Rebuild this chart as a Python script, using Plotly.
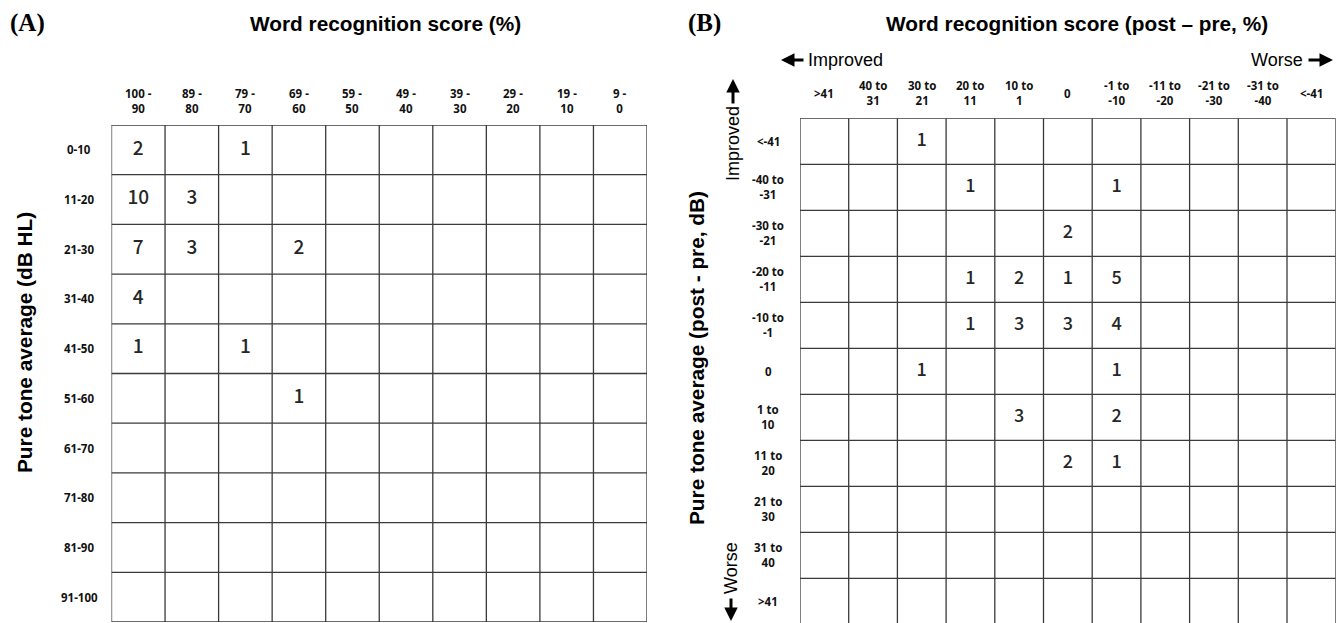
import plotly.graph_objects as go

W, H = 1338, 623

# ---- Panel A: word recognition score vs pure tone average (counts) ----
wrs_bins = ["100 -<br>90", "89 -<br>80", "79 -<br>70", "69 -<br>60", "59 -<br>50",
            "49 -<br>40", "39 -<br>30", "29 -<br>20", "19 -<br>10", "9 -<br>0"]
pta_bins = ["0-10", "11-20", "21-30", "31-40", "41-50",
            "51-60", "61-70", "71-80", "81-90", "91-100"]
counts_a = [
    [2, 0, 1, 0, 0, 0, 0, 0, 0, 0],
    [10, 3, 0, 0, 0, 0, 0, 0, 0, 0],
    [7, 3, 0, 2, 0, 0, 0, 0, 0, 0],
    [4, 0, 0, 0, 0, 0, 0, 0, 0, 0],
    [1, 0, 1, 0, 0, 0, 0, 0, 0, 0],
    [0, 0, 0, 1, 0, 0, 0, 0, 0, 0],
    [0, 0, 0, 0, 0, 0, 0, 0, 0, 0],
    [0, 0, 0, 0, 0, 0, 0, 0, 0, 0],
    [0, 0, 0, 0, 0, 0, 0, 0, 0, 0],
    [0, 0, 0, 0, 0, 0, 0, 0, 0, 0],
]

# ---- Panel B: change (post - pre) in both measures (counts) ----
wrs_change_bins = ["&gt;41", "40 to<br>31", "30 to<br>21", "20 to<br>11", "10 to<br>1", "0",
                   "-1 to<br>-10", "-11 to<br>-20", "-21 to<br>-30", "-31 to<br>-40", "&lt;-41"]
pta_change_bins = ["&lt;-41", "-40 to<br>-31", "-30 to<br>-21", "-20 to<br>-11", "-10 to<br>-1", "0",
                   "1 to<br>10", "11 to<br>20", "21 to<br>30", "31 to<br>40", "&gt;41"]
counts_b = [
    [0, 0, 1, 0, 0, 0, 0, 0, 0, 0, 0],
    [0, 0, 0, 1, 0, 0, 1, 0, 0, 0, 0],
    [0, 0, 0, 0, 0, 2, 0, 0, 0, 0, 0],
    [0, 0, 0, 1, 2, 1, 5, 0, 0, 0, 0],
    [0, 0, 0, 1, 3, 3, 4, 0, 0, 0, 0],
    [0, 0, 1, 0, 0, 0, 1, 0, 0, 0, 0],
    [0, 0, 0, 0, 3, 0, 2, 0, 0, 0, 0],
    [0, 0, 0, 0, 0, 2, 1, 0, 0, 0, 0],
    [0, 0, 0, 0, 0, 0, 0, 0, 0, 0, 0],
    [0, 0, 0, 0, 0, 0, 0, 0, 0, 0, 0],
    [0, 0, 0, 0, 0, 0, 0, 0, 0, 0, 0],
]


def fx(px):
    return px / W


def fy(py):
    return 1 - py / H


TITLE_FONT = dict(family="Liberation Sans, Arial, sans-serif", size=20.8, color="black", weight="bold")
LABEL_FONT = dict(family="Noto Sans, sans-serif", size=11.5, color="#111", weight="bold")
CELL_FONT = dict(family="Noto Sans CJK KR, Noto Sans, sans-serif", size=19, color="#262626", weight=500)
NOTE_FONT = dict(family="Liberation Sans, Arial, sans-serif", size=18, color="black")
PANEL_FONT = dict(family="Liberation Serif, Times New Roman, serif", size=25, color="black", weight="bold")
GRID = dict(color="#3a3a3a", width=1.3)


def cell_points(matrix):
    xs, ys, ts = [], [], []
    for r, row in enumerate(matrix):
        for c, v in enumerate(row):
            if v:
                xs.append(c)
                ys.append(r)
                ts.append(str(v))
    return xs, ys, ts


fig = go.Figure()

xa, ya, ta = cell_points(counts_a)
fig.add_trace(go.Scatter(x=xa, y=ya, text=ta, mode="text", textfont=CELL_FONT,
                         xaxis="x", yaxis="y", hoverinfo="skip", showlegend=False))
xb, yb, tb = cell_points(counts_b)
fig.add_trace(go.Scatter(x=xb, y=yb, text=tb, mode="text", textfont=dict(CELL_FONT, size=18),
                         xaxis="x2", yaxis="y2", hoverinfo="skip", showlegend=False))

shapes = []


def grid_shapes(ncols, nrows, xref, yref):
    out = []
    for k in range(ncols + 1):
        out.append(dict(type="line", xref=xref, yref=yref, x0=k - 0.5, x1=k - 0.5,
                        y0=-0.5, y1=nrows - 0.5, line=GRID, layer="below"))
    for k in range(nrows + 1):
        out.append(dict(type="line", xref=xref, yref=yref, x0=-0.5, x1=ncols - 0.5,
                        y0=k - 0.5, y1=k - 0.5, line=GRID, layer="below"))
    return out


shapes += grid_shapes(len(wrs_bins), len(pta_bins), "x", "y")
shapes += grid_shapes(len(wrs_change_bins), len(pta_change_bins), "x2", "y2")

ann = []
# column and row labels
for i, lab in enumerate(wrs_bins):
    ann.append(dict(x=i, y=fy(101), xref="x", yref="paper", text=lab, showarrow=False,
                    font=LABEL_FONT, xanchor="center", yanchor="middle"))
for i, lab in enumerate(pta_bins):
    ann.append(dict(x=fx(79), y=i, xref="paper", yref="y", text=lab, showarrow=False,
                    font=LABEL_FONT, xanchor="center", yanchor="middle"))
for i, lab in enumerate(wrs_change_bins):
    ann.append(dict(x=i, y=fy(93), xref="x2", yref="paper", text=lab, showarrow=False,
                    font=LABEL_FONT, xanchor="center", yanchor="middle"))
for i, lab in enumerate(pta_change_bins):
    ann.append(dict(x=fx(768), y=i, xref="paper", yref="y2", text=lab, showarrow=False,
                    font=LABEL_FONT, xanchor="center", yanchor="middle"))

# titles
ann.append(dict(x=fx(385), y=fy(23), xref="paper", yref="paper", text="Word recognition score (%)",
                showarrow=False, font=TITLE_FONT, xanchor="center", yanchor="middle"))
ann.append(dict(x=fx(1077), y=fy(23), xref="paper", yref="paper",
                text="Word recognition score (post \u2013 pre, %)",
                showarrow=False, font=TITLE_FONT, xanchor="center", yanchor="middle"))
ann.append(dict(x=fx(24), y=fy(343), xref="paper", yref="paper", text="Pure tone average (dB HL)",
                showarrow=False, font=TITLE_FONT, textangle=-90, xanchor="center", yanchor="middle"))
ann.append(dict(x=fx(696), y=fy(358), xref="paper", yref="paper",
                text="Pure tone average (post - pre, dB)",
                showarrow=False, font=TITLE_FONT, textangle=-90, xanchor="center", yanchor="middle"))
ann.append(dict(x=fx(27), y=fy(23), xref="paper", yref="paper", text="(A)",
                showarrow=False, font=PANEL_FONT, xanchor="center", yanchor="middle"))
ann.append(dict(x=fx(704), y=fy(23), xref="paper", yref="paper", text="(B)",
                showarrow=False, font=PANEL_FONT, xanchor="center", yanchor="middle"))

# direction hints
ann.append(dict(x=fx(845), y=fy(60), xref="paper", yref="paper", text="Improved",
                showarrow=False, font=NOTE_FONT, xanchor="center", yanchor="middle"))
ann.append(dict(x=fx(1277), y=fy(60), xref="paper", yref="paper", text="Worse",
                showarrow=False, font=NOTE_FONT, xanchor="center", yanchor="middle"))
ann.append(dict(x=fx(733), y=fy(143), xref="paper", yref="paper", text="Improved",
                showarrow=False, font=NOTE_FONT, textangle=-90, xanchor="center", yanchor="middle"))
ann.append(dict(x=fx(731), y=fy(568), xref="paper", yref="paper", text="Worse",
                showarrow=False, font=NOTE_FONT, textangle=-90, xanchor="center", yanchor="middle"))

ARROW = dict(xref="paper", yref="paper", text="", showarrow=True, arrowhead=2,
             arrowsize=0.9, arrowwidth=3, arrowcolor="black")
ann.append(dict(ARROW, x=fx(781), y=fy(60), ax=24, ay=0))
ann.append(dict(ARROW, x=fx(1333), y=fy(60), ax=-26, ay=0))
ann.append(dict(ARROW, x=fx(733), y=fy(79), ax=0, ay=26))
ann.append(dict(ARROW, x=fx(731), y=fy(621), ax=0, ay=-24))

row_h_b = 46.0
fig.update_layout(
    width=W, height=H,
    margin=dict(l=0, r=0, t=0, b=0),
    paper_bgcolor="white", plot_bgcolor="white",
    xaxis=dict(domain=[fx(111.5), fx(647)], range=[-0.5, len(wrs_bins) - 0.5], visible=False),
    yaxis=dict(domain=[fy(622), fy(125)], range=[len(pta_bins) - 0.5, -0.5], visible=False),
    xaxis2=dict(domain=[fx(800), fx(1335.7)], range=[-0.5, len(wrs_change_bins) - 0.5],
                visible=False, anchor="y2"),
    yaxis2=dict(domain=[0, fy(118.3)], range=[-0.5 + (H - 118.3) / row_h_b, -0.5],
                visible=False, anchor="x2"),
    shapes=shapes,
    annotations=ann,
    showlegend=False,
)

fig.write_html("out.html", config={"displayModeBar": False})
